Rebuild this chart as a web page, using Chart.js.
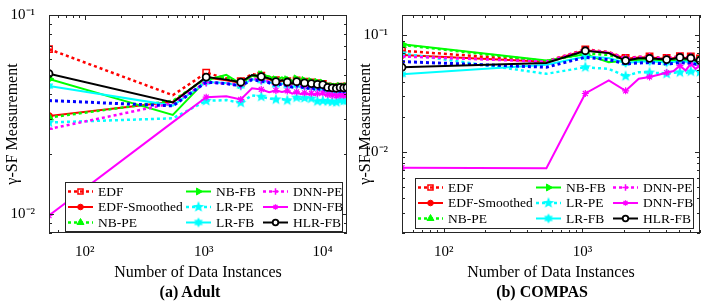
<!DOCTYPE html>
<html>
<head>
<meta charset="utf-8">
<script src="https://cdn.jsdelivr.net/npm/chart.js@4/dist/chart.umd.min.js"></script>
<style>
  body { margin: 0; background: #fff; }
  #wrap { position: relative; width: 706px; height: 301px; overflow: hidden; }
  .pane { position: absolute; top: 0; width: 353px; height: 301px; }
  .caption { position: absolute; top: 283px; width: 200px; height: 18px; line-height: 18px;
             text-align: center; font: bold 16px 'Liberation Serif', 'Times New Roman', serif; color: #000; }
</style>
</head>
<body>
<div id="wrap">
  <div class="pane" style="left:0"><canvas id="chartAdult" width="353" height="301"></canvas></div>
  <div class="pane" style="left:353px"><canvas id="chartCompas" width="353" height="301"></canvas></div>
  <div class="caption" style="left:90px">(a) Adult</div>
  <div class="caption" style="left:442px">(b) COMPAS</div>
</div>
<script>
// ---- data ----
const adultX = [50, 550, 1050, 1550, 2050, 2550, 3050, 3550, 4050, 4550, 5050, 5550, 6050, 6550, 7050, 7550,
  8050, 8550, 9050, 9550, 10050, 10550, 11050, 11550, 12050, 12550, 13050, 13550, 14050, 14550, 15050, 15550, 16050];
const compasX = [50, 550, 1050, 1550, 2050, 2550, 3050, 3550, 4050, 4550, 5050, 5550, 6050, 6550, 7050];

const seriesNames = ["EDF", "EDF-Smoothed", "NB-PE", "NB-FB", "LR-PE", "LR-FB", "DNN-PE", "DNN-FB", "", "HLR-FB"];

const adultEDF = [0.0673, 0.0395, 0.0512, 0.0480, 0.0465, 0.0505, 0.0495, 0.0485, 0.0470, 0.0478, 0.0465, 0.0458, 0.0468, 0.0455, 0.0462, 0.0450,
  0.0458, 0.0448, 0.0454, 0.0445, 0.0450, 0.0442, 0.0437, 0.0445, 0.0435, 0.0441, 0.0433, 0.0439, 0.0436, 0.0442, 0.0434, 0.0440, 0.0437];
const adultEDFSmoothed = [0.0310, 0.0366, 0.0485, 0.0470, 0.0455, 0.0495, 0.0486, 0.0476, 0.0458, 0.0466, 0.0456, 0.0448, 0.0457, 0.0446, 0.0451, 0.0441,
  0.0448, 0.0438, 0.0444, 0.0436, 0.0442, 0.0433, 0.0428, 0.0436, 0.0426, 0.0432, 0.0424, 0.0430, 0.0428, 0.0434, 0.0426, 0.0431, 0.0428];
const adultNBPE = [0.0305, 0.0370, 0.0480, 0.0485, 0.0452, 0.0492, 0.0495, 0.0478, 0.0465, 0.0472, 0.0462, 0.0450, 0.0460, 0.0448, 0.0452, 0.0443,
  0.0450, 0.0440, 0.0446, 0.0438, 0.0444, 0.0435, 0.0430, 0.0437, 0.0428, 0.0433, 0.0426, 0.0432, 0.0429, 0.0435, 0.0427, 0.0432, 0.0429];
const adultNBFB = [0.0476, 0.0314, 0.0470, 0.0500, 0.0450, 0.0495, 0.0498, 0.0492, 0.0470, 0.0485, 0.0470, 0.0462, 0.0475, 0.0458, 0.0466, 0.0452,
  0.0460, 0.0448, 0.0456, 0.0446, 0.0452, 0.0443, 0.0438, 0.0445, 0.0434, 0.0440, 0.0432, 0.0438, 0.0435, 0.0440, 0.0432, 0.0438, 0.0434];
const adultLRPE = [0.0288, 0.0302, 0.0370, 0.0373, 0.0362, 0.0394, 0.0388, 0.0380, 0.0376, 0.0378, 0.0372, 0.0376, 0.0384, 0.0378, 0.0382, 0.0375,
  0.0380, 0.0372, 0.0368, 0.0365, 0.0370, 0.0364, 0.0368, 0.0372, 0.0366, 0.0370, 0.0364, 0.0368, 0.0372, 0.0366, 0.0370, 0.0374, 0.0372];
const adultLRFB = [0.0439, 0.0350, 0.0460, 0.0455, 0.0440, 0.0475, 0.0468, 0.0460, 0.0445, 0.0452, 0.0442, 0.0435, 0.0444, 0.0432, 0.0438, 0.0428,
  0.0435, 0.0425, 0.0430, 0.0422, 0.0428, 0.0420, 0.0415, 0.0422, 0.0413, 0.0418, 0.0411, 0.0416, 0.0414, 0.0420, 0.0412, 0.0417, 0.0414];
const adultDNNPE = [0.0267, 0.0360, 0.0458, 0.0452, 0.0442, 0.0478, 0.0470, 0.0462, 0.0448, 0.0455, 0.0446, 0.0438, 0.0448, 0.0436, 0.0442, 0.0432,
  0.0438, 0.0428, 0.0434, 0.0426, 0.0432, 0.0424, 0.0418, 0.0426, 0.0416, 0.0422, 0.0414, 0.0420, 0.0418, 0.0424, 0.0416, 0.0421, 0.0418];
const adultDNNFB = [0.0098, 0.0289, 0.0386, 0.0390, 0.0376, 0.0428, 0.0422, 0.0409, 0.0417, 0.0410, 0.0415, 0.0402, 0.0410, 0.0400, 0.0406, 0.0398,
  0.0404, 0.0396, 0.0402, 0.0400, 0.0405, 0.0395, 0.0398, 0.0402, 0.0394, 0.0399, 0.0392, 0.0397, 0.0395, 0.0400, 0.0393, 0.0398, 0.0395];
const adultBlue = [0.0371, 0.0349, 0.0459, 0.0452, 0.0440, 0.0472, 0.0465, 0.0456, 0.0442, 0.0450, 0.0440, 0.0433, 0.0442, 0.0430, 0.0436, 0.0427,
  0.0433, 0.0424, 0.0429, 0.0421, 0.0427, 0.0419, 0.0414, 0.0421, 0.0412, 0.0417, 0.0410, 0.0415, 0.0413, 0.0418, 0.0411, 0.0416, 0.0418];
const adultHLRFB = [0.0507, 0.0363, 0.0487, 0.0473, 0.0459, 0.0499, 0.0490, 0.0480, 0.0462, 0.0470, 0.0460, 0.0452, 0.0462, 0.0450, 0.0455, 0.0445,
  0.0452, 0.0442, 0.0448, 0.0440, 0.0446, 0.0437, 0.0432, 0.0440, 0.0430, 0.0436, 0.0428, 0.0434, 0.0432, 0.0438, 0.0430, 0.0435, 0.0432];

const compasEDF = [0.0739, 0.0600, 0.0760, 0.0720, 0.0640, 0.0655, 0.0660, 0.0645, 0.0640, 0.0650, 0.0665, 0.0650, 0.0660, 0.0630, 0.0635];
const compasEDFSmoothed = [0.0680, 0.0595, 0.0745, 0.0710, 0.0630, 0.0645, 0.0650, 0.0638, 0.0630, 0.0640, 0.0655, 0.0640, 0.0650, 0.0622, 0.0625];
const compasNBPE = [0.0830, 0.0600, 0.0700, 0.0680, 0.0615, 0.0625, 0.0630, 0.0620, 0.0615, 0.0620, 0.0630, 0.0620, 0.0625, 0.0605, 0.0610];
const compasNBFB = [0.0840, 0.0610, 0.0690, 0.0590, 0.0605, 0.0615, 0.0620, 0.0610, 0.0605, 0.0612, 0.0622, 0.0612, 0.0618, 0.0598, 0.0605];
const compasLRPE = [0.0700, 0.0468, 0.0533, 0.0516, 0.0447, 0.0483, 0.0480, 0.0475, 0.0468, 0.0478, 0.0482, 0.0475, 0.0490, 0.0480, 0.0485];
const compasLRFB = [0.0463, 0.0560, 0.0660, 0.0640, 0.0580, 0.0595, 0.0600, 0.0590, 0.0585, 0.0590, 0.0605, 0.0595, 0.0600, 0.0580, 0.0590];
const compasDNNPE = [0.0660, 0.0595, 0.0750, 0.0715, 0.0635, 0.0650, 0.0655, 0.0640, 0.0635, 0.0645, 0.0660, 0.0645, 0.0655, 0.0625, 0.0630];
const compasDNNFB = [0.0073, 0.0072, 0.0317, 0.0410, 0.0334, 0.0424, 0.0440, 0.0460, 0.0480, 0.0494, 0.0550, 0.0500, 0.0570, 0.0516, 0.0551];
const compasBlue = [0.0596, 0.0533, 0.0650, 0.0620, 0.0570, 0.0580, 0.0585, 0.0575, 0.0570, 0.0575, 0.0585, 0.0578, 0.0585, 0.0565, 0.0570];
const compasHLRFB = [0.0533, 0.0580, 0.0739, 0.0705, 0.0608, 0.0636, 0.0636, 0.0628, 0.0620, 0.0630, 0.0648, 0.0630, 0.0640, 0.0610, 0.0612];

const adultSeries = [adultEDF, adultEDFSmoothed, adultNBPE, adultNBFB, adultLRPE, adultLRFB, adultDNNPE, adultDNNFB, adultBlue, adultHLRFB];
const compasSeries = [compasEDF, compasEDFSmoothed, compasNBPE, compasNBFB, compasLRPE, compasLRFB, compasDNNPE, compasDNNFB, compasBlue, compasHLRFB];

// tick labels
const adultXMajor = [100, 1000, 10000];
const adultXLabels = ["10²", "10³", "10⁴"];
const compasXMajor = [100, 1000];
const compasXLabels = ["10²", "10³"];
const yMajor = [0.01, 0.1];
const yLabels = ["10⁻²", "10⁻¹"];

// ---- styling ----
const FONT = "'Liberation Serif', 'Times New Roman', serif";
const axisColor = "#262626";
Chart.defaults.font.family = FONT;
Chart.defaults.color = "#000";

function starCanvas(points, rOut, rIn, color) {
  const s = Math.ceil(rOut * 2 + 2);
  const c = document.createElement("canvas");
  c.width = c.height = s;
  const g = c.getContext("2d");
  g.fillStyle = color;
  g.beginPath();
  for (let i = 0; i < points * 2; i++) {
    const r = i % 2 ? rIn : rOut;
    const a = -Math.PI / 2 + (i * Math.PI) / points;
    g.lineTo(s / 2 + r * Math.cos(a), s / 2 + r * Math.sin(a));
  }
  g.closePath();
  g.fill();
  return c;
}
const pentagram = starCanvas(5, 6, 2.6, "#00ffff");
const hexagram = starCanvas(6, 5, 2.9, "#00ffff");

const dotted = [3, 3];
const seriesStyles = [
  { color: "#ff0000", dash: dotted, width: 2.5, marker: "rect", radius: 4.5, fill: "rgba(0,0,0,0)", bw: 1.5 },
  { color: "#ff0000", dash: [], width: 2, marker: "circle", radius: 3.5, fill: "#ff0000", bw: 1 },
  { color: "#00ff00", dash: dotted, width: 2.5, marker: "triangle", radius: 5, fill: "#00ff00", bw: 1 },
  { color: "#00ff00", dash: [], width: 2, marker: "triangle", rotation: 90, radius: 5, fill: "#00ff00", bw: 1 },
  { color: "#00ffff", dash: dotted, width: 2.5, marker: pentagram, radius: 5, fill: "#00ffff", bw: 1 },
  { color: "#00ffff", dash: [], width: 2, marker: hexagram, radius: 5, fill: "#00ffff", bw: 1 },
  { color: "#ff00ff", dash: dotted, width: 2.5, marker: "cross", radius: 4, fill: "#ff00ff", bw: 1.5 },
  { color: "#ff00ff", dash: [], width: 2, marker: "star", radius: 3.5, fill: "#ff00ff", bw: 1.2 },
  { color: "#0000ff", dash: dotted, width: 3, marker: "circle", radius: 0, fill: "#0000ff", bw: 1 },
  { color: "#000000", dash: [], width: 2, marker: "circle", radius: 3.5, fill: "#ffffff", bw: 1.8 },
];

const legendOrder = ["EDF", "EDF-Smoothed", "NB-PE", "NB-FB", "LR-PE", "LR-FB", "DNN-PE", "DNN-FB", "HLR-FB"];

function logTicks(min, max) {
  const out = [];
  for (let e = Math.floor(Math.log10(min)); e <= Math.ceil(Math.log10(max)); e++) {
    for (let m = 1; m <= 9; m++) {
      const v = parseFloat((m * Math.pow(10, e)).toPrecision(6));
      if (v >= min * 0.999999 && v <= max * 1.000001) out.push(v);
    }
  }
  return out;
}
const isMajor = (v) => Math.abs(Math.log10(v) - Math.round(Math.log10(v))) < 1e-6;

function labelFor(major, labels) {
  return (value) => {
    const i = major.findIndex((m) => Math.abs(m - value) / m < 1e-6);
    return i >= 0 ? labels[i] : "";
  };
}

// tick marks inside + axes box
const boxPlugin = {
  id: "axesBox",
  afterDatasetsDraw(chart) {
    const { ctx, chartArea: a, scales: { x, y } } = chart;
    ctx.save();
    ctx.strokeStyle = axisColor;
    ctx.lineWidth = 1;
    ctx.beginPath();
    x.ticks.forEach((t) => {
      const px = Math.round(x.getPixelForValue(t.value)) + 0.5;
      const len = isMajor(t.value) ? 5 : 3;
      ctx.moveTo(px, a.bottom); ctx.lineTo(px, a.bottom - len);
      ctx.moveTo(px, a.top); ctx.lineTo(px, a.top + len);
    });
    y.ticks.forEach((t) => {
      const py = Math.round(y.getPixelForValue(t.value)) + 0.5;
      const len = isMajor(t.value) ? 5 : 3;
      ctx.moveTo(a.left, py); ctx.lineTo(a.left + len, py);
      ctx.moveTo(a.right, py); ctx.lineTo(a.right - len, py);
    });
    ctx.stroke();
    ctx.strokeRect(a.left + 0.5, a.top + 0.5, a.right - a.left - 1, a.bottom - a.top - 1);
    ctx.restore();
  },
};

// legend box drawn inside the axes, 3 columns
const legendColX = [3, 121, 198];
const legendRowY = [9.5, 25, 40.5];
const sampleLen = 25;
const legendPlugin = {
  id: "boxLegend",
  afterDraw(chart, args, opts) {
    const { ctx, chartArea: a } = chart;
    const bx = Math.round(a.left + opts.left);
    const by = Math.round(a.bottom - opts.bottom - opts.height);
    ctx.save();
    ctx.fillStyle = "#fff";
    ctx.fillRect(bx, by, opts.width, opts.height);
    ctx.strokeStyle = axisColor;
    ctx.lineWidth = 1;
    ctx.strokeRect(bx + 0.5, by + 0.5, opts.width, opts.height);
    legendOrder.forEach((name, k) => {
      const idx = seriesNames.indexOf(name);
      const st = seriesStyles[idx];
      const x0 = bx + legendColX[Math.floor(k / 3)];
      const y0 = by + legendRowY[k % 3];
      ctx.strokeStyle = st.color;
      ctx.lineWidth = st.width;
      ctx.setLineDash(st.dash);
      ctx.beginPath();
      ctx.moveTo(x0, y0);
      ctx.lineTo(x0 + sampleLen, y0);
      ctx.stroke();
      ctx.setLineDash([]);
      ctx.fillStyle = st.fill;
      ctx.strokeStyle = st.color;
      ctx.lineWidth = st.bw;
      if (Chart.helpers && Chart.helpers.drawPoint) {
        Chart.helpers.drawPoint(ctx, { pointStyle: st.marker, rotation: st.rotation || 0, radius: st.radius * 0.8, borderWidth: st.bw },
          x0 + sampleLen / 2, y0);
      }
      ctx.fillStyle = "#000";
      ctx.font = "13.5px " + FONT;
      ctx.textBaseline = "middle";
      ctx.fillText(name, x0 + 30, y0 + 0.5);
    });
    ctx.restore();
  },
};

function makeChart(id, xs, series, xr, yr, xMajor, xLabels, legendBox, padRight) {
  const n = series.length;
  const datasets = series.map((vals, i) => {
    const st = seriesStyles[i];
    return {
      label: seriesNames[i],
      data: xs.map((x, j) => ({ x: x, y: vals[j] })),
      borderColor: st.color,
      borderWidth: st.width,
      borderDash: st.dash,
      borderCapStyle: "butt",
      pointStyle: st.marker,
      pointRotation: st.rotation || 0,
      pointBackgroundColor: st.fill,
      pointBorderColor: st.color,
      pointBorderWidth: st.bw,
      pointRadius: (c) => (c.dataIndex % 2 === 0 ? st.radius : 0),
      tension: 0,
      order: n - i,
    };
  });
  return new Chart(document.getElementById(id), {
    type: "line",
    data: { datasets },
    options: {
      responsive: false,
      animation: false,
      devicePixelRatio: 1,
      events: [],
      layout: { padding: { left: 0, right: padRight, top: 12, bottom: 18 } },
      plugins: {
        legend: { display: false },
        tooltip: { enabled: false },
        boxLegend: legendBox,
      },
      scales: {
        x: {
          type: "logarithmic",
          min: xr[0],
          max: xr[1],
          grid: { display: false },
          border: { display: false },
          afterBuildTicks: (s) => { s.ticks = logTicks(xr[0], xr[1]).map((v) => ({ value: v })); },
          afterFit: (s) => { s.height = 50; },
          ticks: { autoSkip: false, maxRotation: 0, padding: 2, font: { size: 15 }, callback: labelFor(xMajor, xLabels) },
          title: { display: true, text: "Number of Data Instances", font: { size: 16 }, padding: { top: 4, bottom: 1 } },
        },
        y: {
          type: "logarithmic",
          min: yr[0],
          max: yr[1],
          grid: { display: false },
          border: { display: false },
          afterBuildTicks: (s) => { s.ticks = logTicks(yr[0], yr[1]).map((v) => ({ value: v })); },
          afterFit: (s) => { s.width = 49; },
          ticks: { autoSkip: false, padding: 6, font: { size: 15 }, callback: labelFor(yMajor, yLabels) },
          title: { display: true, text: "γ-SF Measurement", font: { size: 16 }, padding: { top: 3, bottom: 0 } },
        },
      },
    },
    plugins: [boxPlugin, legendPlugin],
  });
}

makeChart("chartAdult", adultX, adultSeries, [50, 16050], [0.008, 0.1], adultXMajor, adultXLabels,
  { left: 16, bottom: 2, width: 277, height: 49 }, 5);
makeChart("chartCompas", compasX, compasSeries, [50, 7050], [0.002, 0.15], compasXMajor, compasXLabels,
  { left: 13, bottom: 5, width: 278, height: 50 }, 6);
</script>
</body>
</html>
